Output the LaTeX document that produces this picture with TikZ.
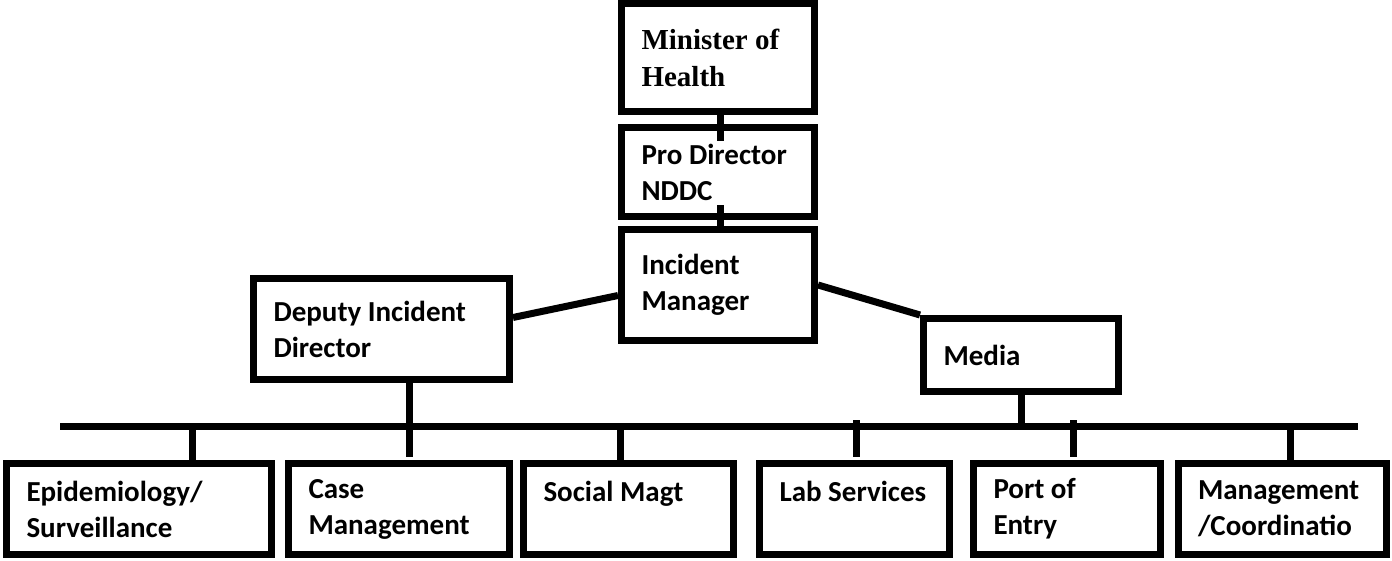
\documentclass[tikz,border=0pt]{standalone}
\usepackage{fontspec}
\setmainfont{Carlito}
\newfontfamily\timesfont{Liberation Serif}
\tikzset{
  orgbox/.style={draw, line width=3.5pt, inner xsep=10pt, inner ysep=0pt, align=flush left,
    font=\bfseries\fontsize{14.5}{18}\selectfont},
  link/.style={line width=3.5pt}
}
\begin{document}
\begin{tikzpicture}[x=0.5pt,y=0.5pt,yscale=-1,xscale=1]
\useasboundingbox (0,0) rectangle (1392,561);

%Shape: Rectangle [top chain]
\node[orgbox, minimum width=96.5pt, minimum height=54pt, text width=76.5pt,
  font=\timesfont\bfseries\fontsize{14.5}{18.5}\selectfont] (mini) at (718,57.5) {Minister of\\Health};
\node[orgbox, minimum width=96.5pt, minimum height=44.5pt, text width=76.5pt] (prod) at (718,172) {Pro Director\\NDDC};
\node[orgbox, minimum width=96.5pt, minimum height=55.5pt, text width=76.5pt] (incm) at (718,285) {Incident\\Manager};
%Shape: Rectangle [second row]
\node[orgbox, minimum width=128pt, minimum height=50.5pt, text width=108pt] (depu) at (381.5,329) {Deputy Incident\\Director};
\node[orgbox, minimum width=97.5pt, minimum height=36.5pt, text width=77.5pt] (medi) at (1021,355) {Media};
%Shape: Rectangle [bottom row]
\node[orgbox, minimum width=132.5pt, minimum height=45.5pt, text width=112.5pt] (epid) at (139,509) {Epidemiology/\\Surveillance};
\node[orgbox, minimum width=110.5pt, minimum height=45.5pt, text width=90.5pt] (case) at (399,509) {Case\\Management};
\node[orgbox, minimum width=105pt, minimum height=45.5pt, text width=85pt] (soci) at (628.5,509) {Social Magt\\\mbox{}};
\node[orgbox, minimum width=95pt, minimum height=45.5pt, text width=75pt] (labs) at (854.5,509) {Lab Services\\\mbox{}};
\node[orgbox, minimum width=93.5pt, minimum height=45.5pt, text width=73.5pt] (port) at (1067,509) {Port of\\Entry};
\node[orgbox, minimum width=102.5pt, minimum height=45.5pt, text width=84pt] (mana) at (1282,509) {Management\\/Coordinatio};

%Straight Lines [chain]
\draw[link, shorten >=-8.75pt] ([xshift=1pt]mini.south) -- ([xshift=1pt]prod.north);
\draw[link, shorten <=-7.25pt] ([xshift=1pt]prod.south) -- ([xshift=1pt]incm.north);
\draw[link] (depu.5) -- (incm.186);
\draw[link] (incm.east) -- (medi.north west);
%Straight Lines [bus]
\coordinate (busl) at (60,426);
\coordinate (busr) at (1358,426);
\draw[link] (busl) -- (busr);
\draw[link] (medi.south) -- (medi.south |- busl);
\draw[link, shorten >=1.5pt] (409.5,0 |- depu.south) -- (409.5,0 |- case.north);
\foreach \b/\x in {epid/192, soci/620, mana/1290}
  \draw[link] (\x,0 |- busl) -- (\x,0 |- \b.north);
\foreach \b/\x in {labs/856, port/1073}
  \draw[link, shorten <=-3pt, shorten >=1.5pt] (\x,0 |- busl) -- (\x,0 |- \b.north);
\end{tikzpicture}
\end{document}
